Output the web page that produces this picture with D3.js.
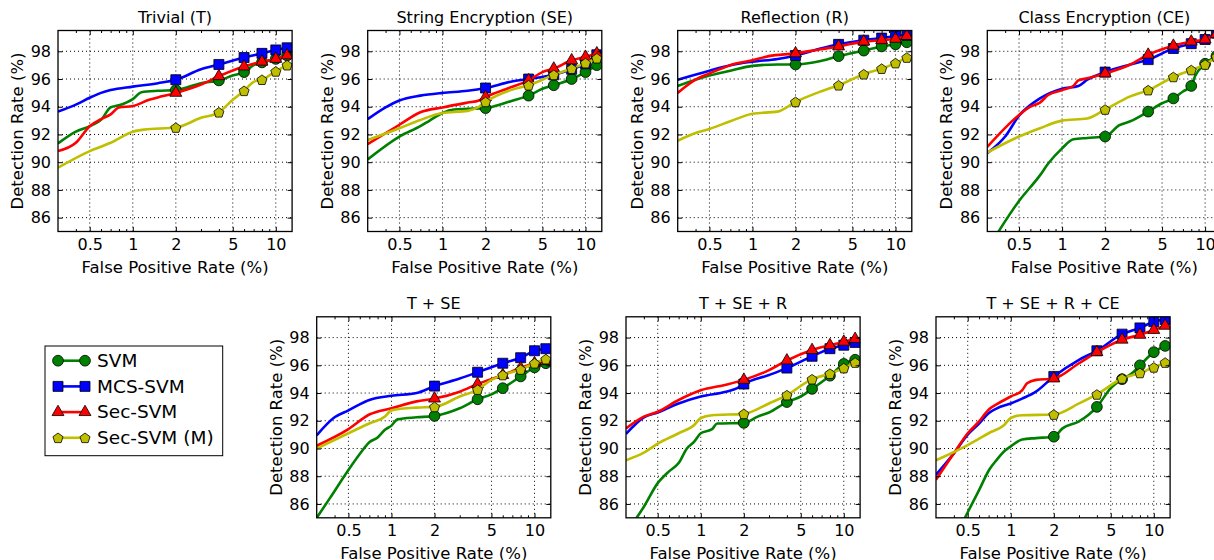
<!DOCTYPE html>
<html><head><meta charset="utf-8">
<script src="https://cdn.jsdelivr.net/npm/d3@7"></script>
<style>
body{margin:0;background:#fff;overflow:hidden}
text{font-family:"DejaVu Sans",sans-serif;fill:#000}
</style>
</head><body>
<svg id="chart" width="1214" height="560"></svg>
<script>
// ---------- data ----------
const panelTitles = ["Trivial (T)", "String Encryption (SE)", "Reflection (R)", "Class Encryption (CE)",
                     "T + SE", "T + SE + R", "T + SE + R + CE"];
const seriesNames = ["SVM", "MCS-SVM", "Sec-SVM", "Sec-SVM (M)"];
const xTicks = [0.5, 1, 2, 5, 10];
const xTickLabels = ["0.5", "1", "2", "5", "10"];
const xMinorTicks = [0.4, 0.6, 0.7, 0.8, 0.9, 3, 4, 6, 7, 8, 9];
const yTicks = [86, 88, 90, 92, 94, 96, 98];
const markerX = [2, 4, 6, 8, 10, 12];
const xLabel = "False Positive Rate (%)";
const yLabel = "Detection Rate (%)";

// Trivial (T)
const T_SVM = [[0.3,91.35],[0.4,92.2],[0.5,92.6],[0.6,93.05],[0.7,93.95],[0.8,94.1],[1,94.55],[1.15,95.05],[1.5,95.15],[2,95.2],[3,95.7],[4,95.9],[5,96.25],[6,96.5],[7,97.0],[8,97.2],[10,97.45],[12,97.7]];
const T_MCS = [[0.3,93.65],[0.4,94.15],[0.5,94.65],[0.6,95.0],[0.7,95.2],[1,95.45],[1.5,95.7],[2,95.95],[3,96.7],[4,97.05],[6,97.55],[8,97.85],[10,98.1],[12,98.25]];
const T_SEC = [[0.3,90.8],[0.4,91.4],[0.5,92.6],[0.6,93.1],[0.7,93.45],[0.8,93.95],[1,94.05],[1.3,94.5],[1.6,94.75],[2,95.0],[3,95.6],[4,96.2],[6,96.9],[8,97.25],[10,97.45],[12,97.7]];
const T_M   = [[0.3,89.6],[0.5,90.8],[0.7,91.4],[1,92.2],[1.2,92.35],[2,92.5],[3,93.2],[4,93.6],[5,94.5],[6,95.15],[7,95.8],[8,95.95],[10,96.55],[12,97.0]];
// String Encryption (SE)
const SE_SVM = [[0.3,90.2],[0.5,91.85],[0.7,92.6],[0.8,92.95],[1,93.55],[1.2,93.8],[1.5,93.85],[2,93.9],[2.5,94.15],[3,94.4],[4,94.8],[5,95.3],[6,95.55],[8,96.0],[10,96.5],[12,97.0]];
const SE_MCS = [[0.3,93.1],[0.4,93.95],[0.5,94.45],[0.7,94.8],[1,95.0],[1.5,95.15],[2,95.35],[3,95.8],[4,96.0],[5,96.15],[6,96.3],[8,96.7],[10,97.1],[12,97.75]];
const SE_SEC = [[0.3,91.3],[0.5,92.7],[0.7,93.6],[1,93.95],[1.5,94.3],[1.8,94.45],[2,94.7],[3,95.4],[4,95.9],[5,96.5],[6,96.75],[8,97.35],[10,97.6],[12,97.85]];
const SE_M   = [[0.3,91.6],[0.5,92.45],[0.7,93.05],[1,93.55],[1.5,93.7],[1.8,94.0],[2,94.35],[3,95.2],[4,95.55],[6,96.3],[8,96.75],[10,97.15],[12,97.5]];
// Reflection (R)
const R_SVM = [[0.3,95.5],[0.5,96.25],[0.7,96.6],[1,96.95],[1.5,97.05],[2,97.05],[3,97.3],[4,97.65],[6,98.05],[8,98.35],[10,98.5],[12,98.65]];
const R_MCS = [[0.3,95.95],[0.5,96.6],[0.7,97.0],[1,97.25],[1.5,97.45],[2,97.7],[3,98.2],[4,98.5],[6,98.8],[8,98.95],[10,99.1],[12,99.15]];
const R_SEC = [[0.3,95.0],[0.4,95.95],[0.5,96.4],[0.7,97.0],[1,97.35],[1.3,97.65],[2,97.85],[3,98.15],[4,98.35],[6,98.7],[8,98.8],[10,98.9],[12,99.1]];
const R_M   = [[0.3,91.55],[0.4,92.1],[0.5,92.4],[0.7,92.95],[1,93.5],[1.5,93.65],[2,94.35],[3,95.1],[4,95.55],[6,96.35],[8,96.75],[10,97.15],[12,97.55]];
// Class Encryption (CE)
const CE_SVM = [[0.3,83.7],[0.5,87.2],[0.7,89.05],[0.8,89.9],[1,91.0],[1.2,91.65],[1.5,91.75],[2,91.85],[2.5,92.65],[3,92.95],[4,93.65],[5,94.25],[6,94.6],[7,95.1],[8,95.5],[8.5,96.2],[10,97.1],[12,97.65]];
const CE_MCS = [[0.3,90.65],[0.4,91.85],[0.5,93.35],[0.7,94.6],[1,95.3],[1.3,95.5],[1.5,95.95],[2,96.5],[3,97.05],[4,97.4],[6,98.2],[8,98.55],[10,98.85],[12,99.3]];
const CE_SEC = [[0.3,91.1],[0.5,93.4],[0.6,94.0],[0.7,94.3],[0.8,94.85],[1,95.2],[1.2,95.5],[1.3,95.9],[1.5,96.05],[2,96.4],[3,97.05],[4,97.75],[6,98.4],[8,98.7],[10,98.85],[12,99.25]];
const CE_M   = [[0.3,90.7],[0.5,91.85],[0.7,92.45],[1,93.0],[1.5,93.15],[2,93.8],[3,94.75],[4,95.2],[6,96.15],[8,96.65],[10,97.05],[12,97.6]];
// T + SE
const TSE_SVM = [[0.3,85.0],[0.37,86.4],[0.5,88.45],[0.6,89.6],[0.7,90.45],[0.8,90.8],[0.9,91.35],[1,91.65],[1.1,92.1],[1.5,92.25],[2,92.35],[3,92.9],[4,93.55],[5,93.9],[6,94.35],[8,95.2],[10,95.85],[12,96.15]];
const TSE_MCS = [[0.3,90.95],[0.4,92.25],[0.5,92.75],[0.7,93.5],[1,93.8],[1.5,94.0],[2,94.5],[3,95.05],[4,95.5],[6,96.15],[8,96.55],[10,97.05],[12,97.2]];
const TSE_SEC = [[0.3,90.2],[0.5,91.4],[0.7,92.45],[1,92.9],[1.5,93.4],[2,93.6],[3,94.1],[4,94.65],[6,95.3],[8,95.8],[10,96.15],[12,96.3]];
const TSE_M   = [[0.3,90.0],[0.5,91.1],[0.7,91.8],[0.9,92.3],[1,92.75],[1.5,92.95],[2,93.0],[3,93.75],[4,94.25],[5,94.95],[6,95.3],[8,95.7],[10,96.15],[12,96.45]];
// T + SE + R
const TSER_SVM = [[0.3,83.9],[0.4,85.8],[0.5,87.5],[0.6,88.35],[0.7,88.95],[0.8,90.0],[0.9,90.5],[1,91.1],[1.2,91.4],[1.3,91.8],[2,91.85],[2.5,92.3],[3,92.6],[4,93.35],[5,93.75],[6,94.3],[8,95.25],[10,96.1],[12,96.4]];
const TSER_MCS = [[0.3,91.05],[0.4,92.25],[0.5,92.6],[0.7,93.25],[1,93.75],[1.5,94.1],[1.8,94.35],[2,94.65],[3,95.3],[4,95.8],[6,96.65],[8,97.2],[10,97.45],[12,97.65]];
const TSER_SEC = [[0.3,91.45],[0.4,92.3],[0.5,92.65],[0.7,93.5],[1,94.2],[1.5,94.6],[2,94.95],[3,95.65],[4,96.35],[6,97.1],[8,97.45],[10,97.7],[12,97.9]];
const TSER_M   = [[0.3,89.15],[0.4,89.7],[0.5,90.35],[0.7,91.1],[0.9,91.7],[1,92.2],[1.2,92.4],[2,92.5],[3,93.25],[4,93.85],[6,95.0],[8,95.4],[10,95.8],[12,96.2]];
// T + SE + R + CE
const ALL_SVM = [[0.3,80.5],[0.4,83.4],[0.5,85.4],[0.6,87.0],[0.71,88.5],[0.8,89.2],[0.9,89.8],[1,90.15],[1.2,90.65],[1.5,90.75],[2,90.85],[2.3,91.45],[3,91.95],[4,93.0],[5,94.35],[6,95.0],[7,95.4],[8,96.0],[10,96.95],[12,97.4]];
const ALL_MCS = [[0.3,88.1],[0.4,89.65],[0.5,91.0],[0.6,91.8],[0.7,92.55],[0.8,92.9],[1,93.25],[1.2,93.6],[1.5,94.1],[2,95.2],[3,96.4],[4,97.05],[6,98.25],[8,98.7],[10,99.15],[12,99.3]];
const ALL_SEC = [[0.3,87.75],[0.4,89.65],[0.5,91.1],[0.6,91.95],[0.7,92.8],[0.8,93.2],[1,93.75],[1.2,94.2],[1.3,94.7],[1.5,94.95],[2,95.05],[3,96.15],[4,96.95],[6,97.85],[8,98.2],[10,98.55],[12,98.85]];
const ALL_M   = [[0.3,89.15],[0.5,90.25],[0.7,91.1],[0.9,91.7],[1,92.2],[1.2,92.4],[2,92.45],[3,93.25],[4,93.9],[6,95.05],[8,95.45],[10,95.85],[12,96.2]];

const panelSeries = [
  [T_SVM, T_MCS, T_SEC, T_M],
  [SE_SVM, SE_MCS, SE_SEC, SE_M],
  [R_SVM, R_MCS, R_SEC, R_M],
  [CE_SVM, CE_MCS, CE_SEC, CE_M],
  [TSE_SVM, TSE_MCS, TSE_SEC, TSE_M],
  [TSER_SVM, TSER_MCS, TSER_SEC, TSER_M],
  [ALL_SVM, ALL_MCS, ALL_SEC, ALL_M]
];

// ---------- styling / layout ----------
const colors = ["#008000", "#0000ff", "#ff0000", "#bfbf00"];
const panelPos = [[58,30.5],[367.7,30.5],[677.7,30.5],[987.3,30.5],[316.7,316.8],[626,316.8],[936,316.8]];
const W = 234.1, H = 201;
const FS = 16;

function pentagonPath(r) {
  const pts = d3.range(5).map(k => {
    const a = -Math.PI / 2 + k * 2 * Math.PI / 5;
    return [r * Math.cos(a), r * Math.sin(a) + r * 0.1];
  });
  return "M" + pts.map(p => p[0].toFixed(2) + "," + p[1].toFixed(2)).join("L") + "Z";
}
const markerPaths = [
  d3.symbol(d3.symbolCircle, Math.PI * 5.4 * 5.4)(),
  d3.symbol(d3.symbolSquare, 10 * 10)(),
  d3.symbol(d3.symbolTriangle, 62)(),
  pentagonPath(5.3)
];

const svg = d3.select("#chart");

const x = d3.scaleLog().domain([0.3, 13]).range([0, W]);
const y = d3.scaleLinear().domain([85, 99.5]).range([H, 0]);

panelPos.forEach((pos, pi) => {
  const g = svg.append("g").attr("transform", `translate(${pos[0]},${pos[1]})`);
  const clipId = "clip" + pi;
  g.append("clipPath").attr("id", clipId).append("rect").attr("width", W).attr("height", H);

  // grid
  const grid = g.append("g").attr("stroke", "#000").attr("stroke-width", 1).attr("stroke-dasharray", "1,3");
  grid.selectAll("line.gx").data(xTicks).join("line")
    .attr("x1", d => x(d)).attr("x2", d => x(d)).attr("y1", 0).attr("y2", H);
  grid.selectAll("line.gy").data(yTicks).join("line")
    .attr("y1", d => y(d)).attr("y2", d => y(d)).attr("x1", 0).attr("x2", W);

  // series
  const plot = g.append("g").attr("clip-path", `url(#${clipId})`);
  const line = d3.line().x(d => x(d[0])).y(d => y(d[1])).curve(d3.curveMonotoneX);
  panelSeries[pi].forEach((data, si) => {
    const sg = plot.append("g");
    sg.append("path").datum(data).attr("d", line)
      .attr("fill", "none").attr("stroke", colors[si]).attr("stroke-width", 2.6)
      .attr("stroke-linejoin", "round");
    sg.selectAll("path.mk").data(data.filter(d => markerX.includes(d[0]))).join("path")
      .attr("class", "mk")
      .attr("d", markerPaths[si])
      .attr("transform", d => `translate(${x(d[0])},${y(d[1])})`)
      .attr("fill", colors[si]).attr("stroke", "#000").attr("stroke-width", 0.8);
  });

  // axes (ticks pointing inwards)
  const fmt = (d) => xTickLabels[xTicks.indexOf(d)];
  g.append("g").attr("transform", `translate(0,${H})`)
    .call(d3.axisBottom(x).tickValues(xTicks).tickFormat(fmt).tickSizeInner(-4.5).tickSizeOuter(0).tickPadding(7));
  g.append("g").attr("transform", `translate(0,${H})`)
    .call(d3.axisBottom(x).tickValues(xMinorTicks).tickFormat("").tickSizeInner(-2.5).tickSizeOuter(0));
  g.append("g").call(d3.axisTop(x).tickValues(xTicks).tickFormat("").tickSizeInner(-4.5).tickSizeOuter(0));
  g.append("g").call(d3.axisTop(x).tickValues(xMinorTicks).tickFormat("").tickSizeInner(-2.5).tickSizeOuter(0));
  g.append("g").call(d3.axisLeft(y).tickValues(yTicks).tickFormat(d3.format("d")).tickSizeInner(-4.5).tickSizeOuter(0).tickPadding(7));
  g.append("g").attr("transform", `translate(${W},0)`)
    .call(d3.axisRight(y).tickValues(yTicks).tickFormat("").tickSizeInner(-4.5).tickSizeOuter(0));
  g.selectAll(".domain").remove();
  g.selectAll(".tick line").attr("stroke", "#000").attr("stroke-width", 1);
  g.selectAll(".tick text").attr("font-family", "DejaVu Sans").attr("font-size", FS).attr("fill", "#000");

  // frame
  g.append("rect").attr("width", W).attr("height", H).attr("fill", "none")
    .attr("stroke", "#000").attr("stroke-width", 1.3);

  // titles & labels
  g.append("text").attr("x", W / 2).attr("y", -7.5).attr("text-anchor", "middle")
    .attr("font-size", FS).text(panelTitles[pi]);
  g.append("text").attr("x", W / 2).attr("y", H + 41).attr("text-anchor", "middle")
    .attr("font-size", 16.5).text(xLabel);
  g.append("text").attr("transform", `translate(-35,${H / 2}) rotate(-90)`).attr("text-anchor", "middle")
    .attr("font-size", 16.5).text(yLabel);
});

// ---------- legend ----------
const lg = svg.append("g").attr("transform", "translate(45,346)");
lg.append("rect").attr("width", 177.7).attr("height", 109.7).attr("fill", "#fff")
  .attr("stroke", "#000").attr("stroke-width", 1);
seriesNames.forEach((name, i) => {
  const cy = 14.7 + i * 25.7;
  const e = lg.append("g").attr("transform", `translate(0,${cy})`);
  e.append("line").attr("x1", 13).attr("x2", 40).attr("y1", 0).attr("y2", 0)
    .attr("stroke", colors[i]).attr("stroke-width", 2.6);
  [13, 40].forEach(mx => e.append("path").attr("d", markerPaths[i])
    .attr("transform", `translate(${mx},0)`).attr("fill", colors[i])
    .attr("stroke", "#000").attr("stroke-width", 0.8));
  e.append("text").attr("x", 52).attr("y", 6.2).attr("font-size", 18.5).text(name);
});
</script>
</body></html>
